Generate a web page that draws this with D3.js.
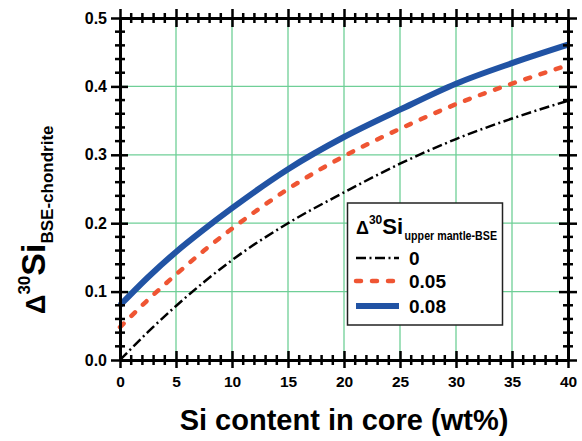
<!DOCTYPE html>
<html><head><meta charset="utf-8">
<script src="https://cdn.jsdelivr.net/npm/d3@7"></script>
<style>
body{margin:0;background:#fff;}
text{font-family:"Liberation Sans",Arial,sans-serif;font-weight:bold;fill:#000;}
</style></head>
<body>
<svg id="chart" width="582" height="441"></svg>
<script>
const siContent = [0, 2.5, 5, 7.5, 10, 15, 20, 25, 30, 35, 40];
const series0 = [0.000, 0.041, 0.079, 0.114, 0.146, 0.200, 0.245, 0.287, 0.323, 0.353, 0.379];
const series005 = [0.048, 0.088, 0.125, 0.160, 0.192, 0.250, 0.298, 0.338, 0.374, 0.404, 0.431];
const series008 = [0.080, 0.121, 0.158, 0.191, 0.222, 0.279, 0.326, 0.366, 0.404, 0.434, 0.461];
const legendLabels = ["0", "0.05", "0.08"];
const xTicks = [0, 5, 10, 15, 20, 25, 30, 35, 40];
const yTicks = [0.0, 0.1, 0.2, 0.3, 0.4, 0.5];

const svg = d3.select("#chart");
const L = 120, R = 568, T = 18, B = 360;
const x = d3.scaleLinear().domain([0, 40]).range([L, R]);
const y = d3.scaleLinear().domain([0, 0.5]).range([B, T]);

const gridColor = "#6fcf97";
// grid
svg.append("g").selectAll("line.vg").data(xTicks.slice(1, -1)).join("line")
  .attr("x1", d => x(d)).attr("x2", d => x(d)).attr("y1", T).attr("y2", B)
  .attr("stroke", gridColor).attr("stroke-width", 1.3);
svg.append("g").selectAll("line.hg").data(yTicks.slice(1, -1)).join("line")
  .attr("y1", d => y(d)).attr("y2", d => y(d)).attr("x1", L).attr("x2", R)
  .attr("stroke", gridColor).attr("stroke-width", 1.3);

// curves
const line = d3.line().x(d => x(d[0])).y(d => y(d[1])).curve(d3.curveMonotoneX);
const seriesDefs = [
  {vals: series0, color: "#000", width: 2.5, dash: "10,3.5,2,3.5", cap: "butt"},
  {vals: series005, color: "#ef5533", width: 4.5, dash: "5,11", cap: "round"},
  {vals: series008, color: "#2153a4", width: 6, dash: null, cap: "butt"}
];
seriesDefs.forEach(s => {
  svg.append("path").datum(siContent.map((v, i) => [v, s.vals[i]]))
    .attr("d", line).attr("fill", "none").attr("stroke", s.color)
    .attr("stroke-width", s.width).attr("stroke-dasharray", s.dash)
    .attr("stroke-linecap", s.cap);
});

// axes
const xMinor = d3.range(0, 41, 1).filter(v => v % 5 !== 0);
const yMinor = d3.range(0, 51, 2).filter(v => v % 10 !== 0).map(v => v / 100);

function styleAxis(g, fs) {
  g.select(".domain").attr("stroke-width", 3).attr("stroke", "#000");
  g.selectAll(".tick line").attr("stroke-width", 2.5).attr("stroke", "#000");
  g.selectAll(".tick text").attr("font-size", fs).attr("font-weight", "bold")
    .attr("font-family", "Liberation Sans, Arial, sans-serif").attr("fill", "#000");
}

const gx = svg.append("g").attr("transform", `translate(0,${B})`)
  .call(d3.axisBottom(x).tickValues(xTicks).tickSizeOuter(0).tickPadding(8));
gx.selectAll(".tick line").attr("y1", -9).attr("y2", 8);
styleAxis(gx, 15.5);
gx.selectAll(".tick text").attr("dy", "0.75em").attr("y", 15);

const gxt = svg.append("g").attr("transform", `translate(0,${T})`)
  .call(d3.axisTop(x).tickValues(xTicks).tickSizeOuter(0).tickFormat(""));
gxt.selectAll(".tick line").attr("y1", -9).attr("y2", 9);
styleAxis(gxt, 16);

const gy = svg.append("g").attr("transform", `translate(${L},0)`)
  .call(d3.axisLeft(y).tickValues(yTicks).tickSizeOuter(0).tickFormat(d3.format(".1f")));
gy.selectAll(".tick line").attr("x1", -9).attr("x2", 8);
styleAxis(gy, 16);
gy.selectAll(".tick text").attr("x", -13);

const gyr = svg.append("g").attr("transform", `translate(${R},0)`)
  .call(d3.axisRight(y).tickValues(yTicks).tickSizeOuter(0).tickFormat(""));
gyr.selectAll(".tick line").attr("x1", -9).attr("x2", 9);
styleAxis(gyr, 16);

// minor ticks
[B, T].forEach(yy => {
  svg.append("g").selectAll("line").data(xMinor).join("line")
    .attr("x1", d => x(d)).attr("x2", d => x(d)).attr("y1", yy - 5).attr("y2", yy + 5)
    .attr("stroke", "#000").attr("stroke-width", 2.5);
});
[L, R].forEach(xx => {
  svg.append("g").selectAll("line").data(yMinor).join("line")
    .attr("y1", d => y(d)).attr("y2", d => y(d)).attr("x1", xx - 5).attr("x2", xx + 5)
    .attr("stroke", "#000").attr("stroke-width", 2.5);
});

// axis titles
svg.append("text").attr("x", 344).attr("y", 430).attr("text-anchor", "middle")
  .attr("font-size", 29).text("Si content in core (wt%)");

const yt = svg.append("text").attr("transform", "translate(45,314) rotate(-90)");
yt.append("tspan").attr("font-size", 27).text("\u0394");
yt.append("tspan").attr("font-size", 17).attr("dy", -15).text("30");
yt.append("tspan").attr("font-size", 34).attr("dy", 15).text("Si");
yt.append("tspan").attr("font-size", 17).attr("dy", 8).text("BSE-chondrite");

// legend
const lg = svg.append("g");
lg.append("rect").attr("x", 347.5).attr("y", 203).attr("width", 155).attr("height", 122)
  .attr("fill", "#fff").attr("stroke", "#222").attr("stroke-width", 1.5);
const lt = lg.append("text").attr("x", 356).attr("y", 234);
lt.append("tspan").attr("font-size", 18).text("\u0394");
lt.append("tspan").attr("font-size", 12).attr("dy", -10).text("30");
lt.append("tspan").attr("font-size", 22).attr("dy", 10).text("Si");
const ltEnd = lt.node().getBBox();
const subX = ltEnd.x + ltEnd.width + 1.5;
lg.append("text").attr("x", subX).attr("y", 240).attr("font-size", 12.5)
  .attr("textLength", 497 - subX).attr("lengthAdjust", "spacingAndGlyphs").text("upper mantle-BSE");

const legendY = [258, 281, 306];
seriesDefs.forEach((s, i) => {
  lg.append("line").attr("x1", 356).attr("x2", 399).attr("y1", legendY[i]).attr("y2", legendY[i])
    .attr("stroke", s.color).attr("stroke-width", s.width).attr("stroke-dasharray", s.dash)
    .attr("stroke-linecap", s.cap);
  lg.append("text").attr("x", 409).attr("y", legendY[i] + 7).attr("font-size", 19).text(legendLabels[i]);
});
</script>
</body></html>
